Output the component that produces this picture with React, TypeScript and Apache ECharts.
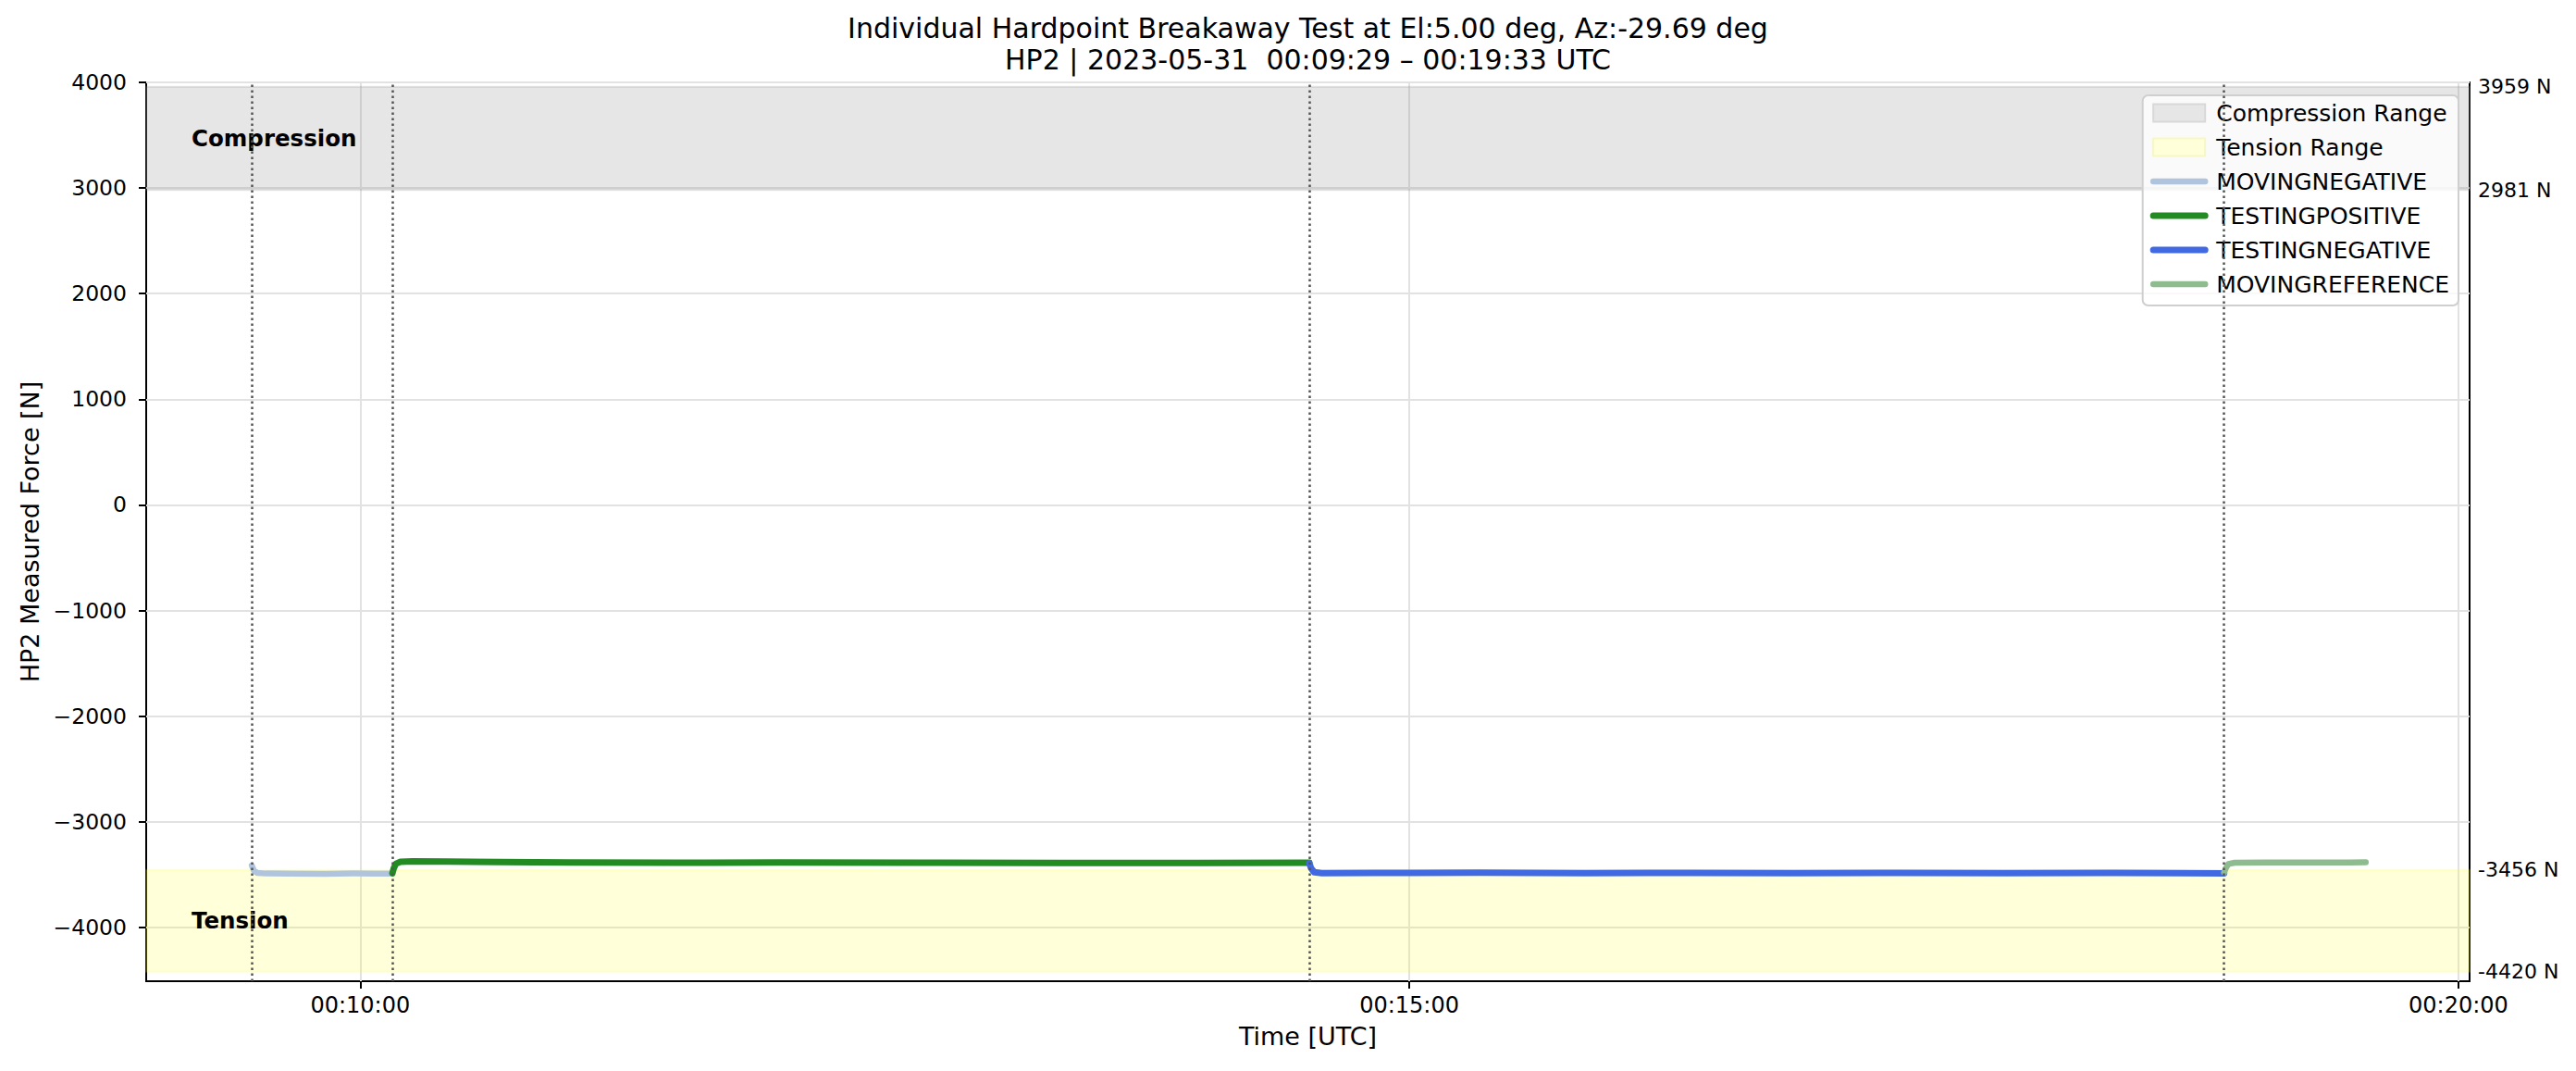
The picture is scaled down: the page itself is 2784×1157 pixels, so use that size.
import React, { useEffect, useRef } from "react";
import * as echarts from "echarts";

const FONT = "DejaVu Sans";

const TITLE_LINES = [
  "Individual Hardpoint Breakaway Test at El:5.00 deg, Az:-29.69 deg",
  "HP2 | 2023-05-31  00:09:29 \u2013 00:19:33 UTC",
];

// seconds after 00:00:00 UTC
const X_MIN = 538.8;
const X_MAX = 1203.2;
const X_TICKS = [600, 900, 1200];
const Y_MIN = -4510;
const Y_MAX = 4000;
const Y_TICKS = [-4000, -3000, -2000, -1000, 0, 1000, 2000, 3000, 4000];
const RANGE_LABELS = [3959, 2981, -3456, -4420];
const COMPRESSION_RANGE = [2981, 3959];
const TENSION_RANGE = [-4420, -3456];
const PHASE_STARTS = [569, 609.2, 871.4, 1133];

const MOVING_NEGATIVE = [
  [569, -3415], [569.6, -3462], [570.5, -3484], [573, -3490], [580, -3491],
  [590, -3493], [598, -3490], [604, -3492], [609.2, -3492],
];
const TESTING_POSITIVE = [
  [609.2, -3488], [609.6, -3440], [610.2, -3398], [611.5, -3380], [615, -3376],
  [625, -3378], [640, -3381], [660, -3386], [690, -3388], [720, -3387],
  [760, -3389], [800, -3390], [840, -3390], [871.4, -3389],
];
const TESTING_NEGATIVE = [
  [871.4, -3392], [871.9, -3440], [872.8, -3478], [875, -3486], [890, -3485],
  [920, -3483], [950, -3486], [980, -3484], [1010, -3486], [1040, -3484],
  [1070, -3486], [1100, -3485], [1120, -3486], [1133, -3488],
];
const MOVING_REFERENCE = [
  [1133, -3482], [1133.5, -3440], [1134.2, -3400], [1136, -3388], [1145, -3386],
  [1155, -3385], [1165, -3386], [1173.5, -3384],
];

const LINE_SERIES = [
  { name: "MOVINGNEGATIVE", data: MOVING_NEGATIVE, color: "#B0C4DE", width: 6.5 },
  { name: "TESTINGPOSITIVE", data: TESTING_POSITIVE, color: "#228B22", width: 7 },
  { name: "TESTINGNEGATIVE", data: TESTING_NEGATIVE, color: "#4169E1", width: 7 },
  { name: "MOVINGREFERENCE", data: MOVING_REFERENCE, color: "#8FBC8F", width: 6.5 },
];

const GRAY_FILL = "rgba(128,128,128,0.2)";
const YELLOW_FILL = "rgba(255,255,0,0.15)";

function pad2(n: number) {
  return n < 10 ? "0" + n : String(n);
}
function fmtTime(v: number) {
  const t = Math.round(v);
  const h = Math.floor(t / 3600);
  const m = Math.floor((t % 3600) / 60);
  const s = t % 60;
  return `${pad2(h)}:${pad2(m)}:${pad2(s)}`;
}
function fmtY(v: number) {
  return v < 0 ? "\u2212" + Math.abs(v) : String(v);
}

export default function App() {
  const ref = useRef<HTMLDivElement>(null);

  useEffect(() => {
    if (!ref.current) return;
    const chart = echarts.init(ref.current, null, { renderer: "svg" });

    const bandLabel = {
      show: true,
      position: "insideLeft",
      distance: 50,
      fontFamily: FONT,
      fontSize: 24.5,
      fontWeight: "bold",
      color: "#000",
    };

    const option: any = {
      animation: false,
      backgroundColor: "#ffffff",
      textStyle: { fontFamily: FONT, color: "#000" },
      title: {
        text: TITLE_LINES.join("\n"),
        left: 1413.5,
        top: 13,
        padding: 0,
        textAlign: "center",
        textStyle: {
          fontFamily: FONT,
          fontSize: 30,
          fontWeight: "normal",
          color: "#000",
          lineHeight: 34,
        },
      },
      legend: {
        orient: "vertical",
        right: 127,
        top: 103,
        selectedMode: false,
        itemWidth: 56,
        itemHeight: 19,
        itemGap: 9,
        padding: [5, 10, 9, 8],
        backgroundColor: "rgba(255,255,255,0.8)",
        borderColor: "#cfcfcf",
        borderWidth: 2,
        borderRadius: 6,
        textStyle: {
          fontFamily: FONT,
          fontSize: 25,
          color: "#000",
          lineHeight: 28,
          padding: [0, 0, 0, 7],
        },
        data: [
          {
            name: "Compression Range",
            icon: "rect",
            itemStyle: { color: "#e6e6e6", borderColor: "#d8d8d8", borderWidth: 2 },
          },
          {
            name: "Tension Range",
            icon: "rect",
            itemStyle: { color: "#ffffd9", borderColor: "#f7f7c4", borderWidth: 2 },
          },
          ...LINE_SERIES.map((s) => ({
            name: s.name,
            itemStyle: { opacity: 0 },
            lineStyle: { color: s.color, width: s.width, opacity: 1 },
          })),
        ],
      },
      grid: {
        left: 158,
        right: 115,
        top: 89,
        bottom: 97,
        show: true,
        borderColor: "#000",
        borderWidth: 2,
        backgroundColor: "transparent",
        containLabel: false,
        outerBoundsMode: "none",
      },
      xAxis: {
        type: "value",
        min: X_MIN,
        max: X_MAX,
        name: "Time [UTC]",
        nameLocation: "middle",
        nameGap: 46,
        nameTextStyle: { fontFamily: FONT, fontSize: 27, color: "#000" },
        axisLine: { show: false, onZero: false },
        axisTick: {
          show: true,
          customValues: X_TICKS,
          length: 8,
          lineStyle: { color: "#000", width: 2 },
        },
        axisLabel: {
          customValues: X_TICKS,
          formatter: (v: number) => fmtTime(v),
          fontFamily: FONT,
          fontSize: 24,
          color: "#000",
          margin: 14,
        },
        splitLine: { show: true, lineStyle: { color: "#e2e2e2", width: 2 } },
      },
      yAxis: [
        {
          type: "value",
          min: Y_MIN,
          max: Y_MAX,
          name: "HP2 Measured Force [N]",
          nameLocation: "middle",
          nameGap: 112,
          nameTextStyle: { fontFamily: FONT, fontSize: 27, color: "#000" },
          axisLine: { show: false, onZero: false },
          axisTick: {
            show: true,
            customValues: Y_TICKS,
            length: 8,
            lineStyle: { color: "#000", width: 2 },
          },
          axisLabel: {
            customValues: Y_TICKS,
            formatter: (v: number) => fmtY(v),
            fontFamily: FONT,
            fontSize: 23.5,
            color: "#000",
            margin: 21,
          },
          splitLine: { show: true, lineStyle: { color: "#e2e2e2", width: 2 } },
        },
        {
          type: "value",
          position: "right",
          min: Y_MIN,
          max: Y_MAX,
          axisLine: { show: false, onZero: false },
          axisTick: { show: false },
          splitLine: { show: false },
          axisLabel: {
            customValues: RANGE_LABELS,
            formatter: (v: number) => `${v} N`,
            fontFamily: FONT,
            fontSize: 22,
            color: "#000",
            margin: 9,
          },
        },
      ],
      series: [
        {
          name: "Compression Range",
          type: "line",
          data: [],
          itemStyle: { color: "#e6e6e6" },
          z: 1,
          markArea: {
            silent: true,
            itemStyle: { color: GRAY_FILL, borderColor: GRAY_FILL, borderWidth: 2 },
            label: bandLabel,
            data: [
              [
                { name: "Compression", yAxis: COMPRESSION_RANGE[0] },
                { yAxis: COMPRESSION_RANGE[1] },
              ],
            ],
          },
        },
        {
          name: "Tension Range",
          type: "line",
          data: [],
          itemStyle: { color: "#ffffd9" },
          z: 1,
          markArea: {
            silent: true,
            itemStyle: { color: YELLOW_FILL, borderColor: YELLOW_FILL, borderWidth: 2 },
            label: bandLabel,
            data: [
              [
                { name: "Tension", yAxis: TENSION_RANGE[0] },
                { yAxis: TENSION_RANGE[1] },
              ],
            ],
          },
        },
        ...LINE_SERIES.map((s) => ({
          name: s.name,
          type: "line",
          data: s.data,
          symbol: "none",
          showSymbol: false,
          z: 3,
          itemStyle: { color: s.color },
          lineStyle: { color: s.color, width: s.width, cap: "round", join: "round" },
        })),
        {
          name: "phase-markers",
          type: "line",
          data: [],
          z: 5,
          markLine: {
            silent: true,
            symbol: ["none", "none"],
            label: { show: false },
            lineStyle: { color: "#555555", width: 2.5, type: [2.5, 3.5] },
            data: PHASE_STARTS.map((x) => ({ xAxis: x })),
          },
        },
      ],
    };

    chart.setOption(option);
    return () => chart.dispose();
  }, []);

  return (
    <div
      ref={ref}
      style={{ position: "fixed", left: 0, top: 0, width: 2784, height: 1157, background: "#fff" }}
    />
  );
}
